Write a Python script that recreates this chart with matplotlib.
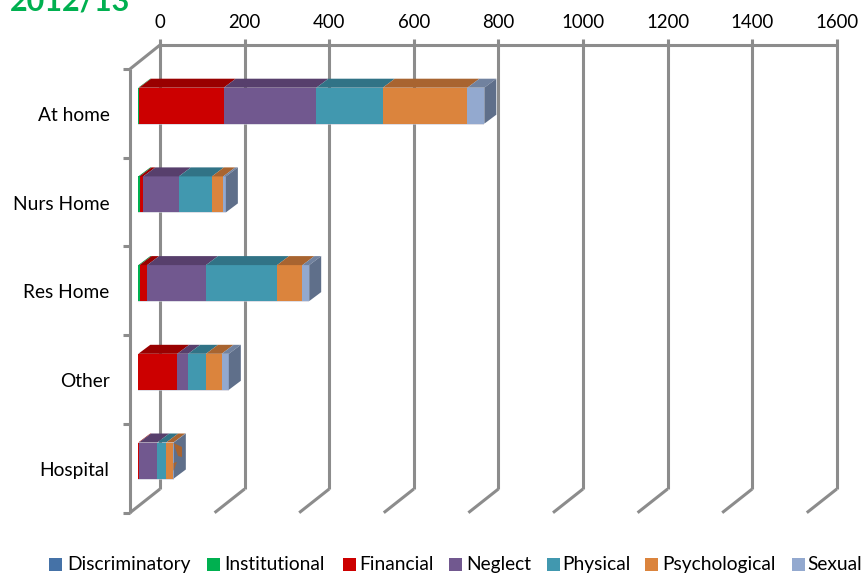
import matplotlib
matplotlib.use("Agg")
import matplotlib.pyplot as plt
from matplotlib.patches import Polygon, Rectangle
import numpy as np

plt.rcParams["font.family"] = ["Lato", "DejaVu Sans"]

# ---------------------------
# DATA
# ---------------------------
places = ["At home", "Nurs Home", "Res Home", "Other", "Hospital"]
abuse_types = ["Discriminatory", "Institutional", "Financial", "Neglect",
               "Physical", "Psychological", "Sexual"]
discriminatory = [0, 0, 0, 0, 0]
institutional = [2, 3, 3, 0, 0]
financial = [200, 9, 18, 92, 2]
neglect = [219, 84, 139, 26, 43]
physical = [157, 78, 168, 42, 21]
psychological = [200, 27, 60, 37, 17]
sexual = [40, 6, 16, 17, 1]
value_ticks = [0, 200, 400, 600, 800, 1000, 1200, 1400, 1600]

series = [discriminatory, institutional, financial, neglect,
          physical, psychological, sexual]

front_colors = ["#4572A7", "#00B050", "#CC0000", "#71588F",
                "#4198AF", "#DB843D", "#93A9CF"]
top_colors = ["#345680", "#008A3E", "#990000", "#573F6C",
              "#317386", "#A86430", "#71829F"]
side_color = "#5F6F8A"
grid_color = "#8C8C8C"

W, H = 861, 573
X0, PX_PER_VALUE = 138.3, 0.423      # pixel of value 0, pixels per unit
Y0, PX_PER_ROW = 105.7, 88.7         # pixel of first bar centre, row spacing


def px(x):
    return (x - X0) / PX_PER_VALUE


def py(y):
    return (y - Y0) / PX_PER_ROW


fig = plt.figure(figsize=(W / 100, H / 100), dpi=100)
ax = fig.add_axes([0, 0, 1, 1])
ax.set_xlim(px(0), px(W))
ax.set_ylim(py(H), py(0))
ax.axis("off")

# ---------------------------
# WALLS AND GRID
# ---------------------------
line = dict(color=grid_color, lw=2.2, solid_capstyle="butt", zorder=1)
back_top, back_bottom, front_bottom = 45, 489, 512.7
wall_top = 69

for v in value_ticks:
    xb = px(160) + v
    ax.plot([xb, xb], [py(39), py(back_bottom)], **line)
    ax.plot([xb, xb - 30 / PX_PER_VALUE], [py(back_bottom), py(front_bottom)], **line)
    ax.text(xb, py(22), str(v), ha="center", va="center", fontsize=13.4, color="black")

ax.plot([px(160), px(160) + value_ticks[-1]], [py(back_top), py(back_top)], **line)
ax.plot([px(130), px(130)], [py(wall_top), py(front_bottom)], **line)
ax.plot([px(130), px(160)], [py(wall_top), py(back_top)], **line)

for i in range(len(places) + 1):
    y = wall_top + i * (front_bottom - wall_top) / len(places)
    ax.plot([px(123), px(130)], [py(y), py(y)], **line)

# ---------------------------
# STACKED BARS
# ---------------------------
bar_h = 36 / PX_PER_ROW
dx, dy = 12 / PX_PER_VALUE, -9 / PX_PER_ROW
rows = np.arange(len(places))
left = np.zeros(len(places))

for values, front, top in zip(series, front_colors, top_colors):
    ax.barh(rows, values, left=left, height=bar_h, color=front, lw=0, zorder=3)
    for r, v, l in zip(rows, values, left):
        if v > 0:
            yt = r - bar_h / 2
            ax.add_patch(Polygon([(l, yt), (l + v, yt), (l + v + dx, yt + dy), (l + dx, yt + dy)],
                                 closed=True, fc=top, ec="none", zorder=3))
    left = left + np.array(values)

for r, total in zip(rows, left):
    yt, yb = r - bar_h / 2, r + bar_h / 2
    ax.add_patch(Polygon([(total, yt), (total + dx, yt + dy), (total + dx, yb + dy), (total, yb)],
                         closed=True, fc=side_color, ec="none", zorder=3))
    # faint strip under each bar
    ax.add_patch(Rectangle((0, yb), total, 1 / PX_PER_ROW, fc="#C9C9D6", ec="none", alpha=0.6, zorder=3))

# brown slivers showing through the hospital bar's end
for pts in ([(173.5, 443), (182, 447), (182, 457), (178, 456)], [(173.5, 471), (173.5, 463), (177, 462)]):
    ax.add_patch(Polygon([(px(x), py(y)) for x, y in pts], closed=True, fc="#A86430", ec="none", zorder=4))

for r, name in zip(rows, places):
    ax.text(px(109.5), r + py(115.5) - py(105.7), name, ha="right", va="center", fontsize=13.8, color="black")

# ---------------------------
# TITLE AND LEGEND
# ---------------------------
ax.text(px(10), py(11), "2012/13", ha="left", va="baseline", fontsize=22, fontweight="bold", color="#00B050")

legend_x = [49, 207, 343, 449, 547, 645, 792]
legend_text_x = [67, 224, 359, 466, 562, 662, 807]
for name, color, x, tx in zip(abuse_types, front_colors, legend_x, legend_text_x):
    ax.add_patch(Rectangle((px(x), py(558)), 13 / PX_PER_VALUE, 13 / PX_PER_ROW, fc=color, ec="none"))
    ax.text(px(tx), py(570), name, ha="left", va="baseline", fontsize=13.8, color="black", clip_on=True)

fig.savefig("out.png", dpi=100)
